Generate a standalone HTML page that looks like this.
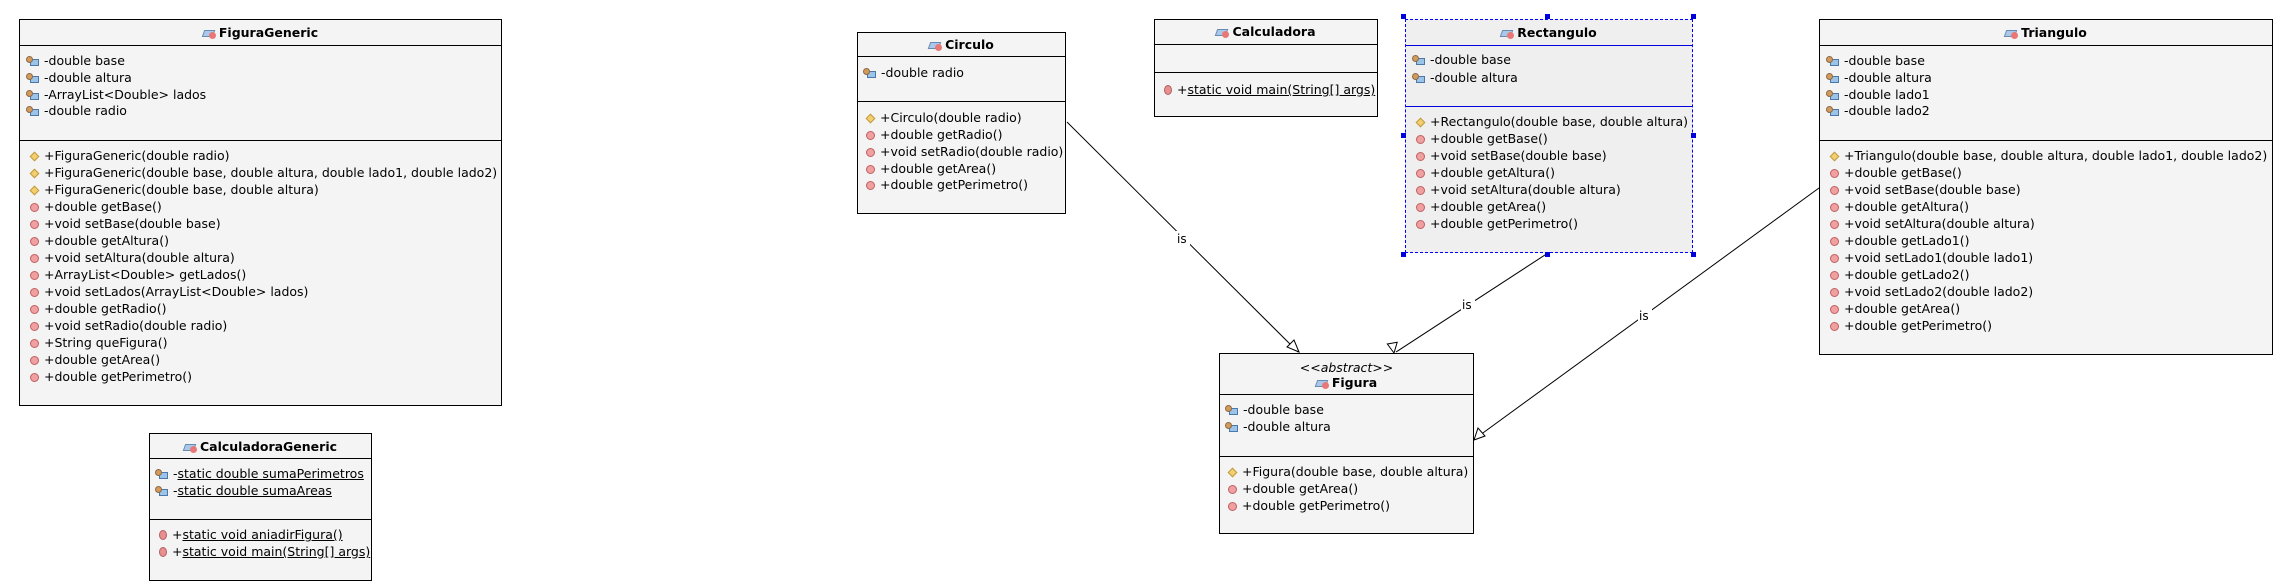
<!DOCTYPE html>
<html><head><meta charset="utf-8"><style>
body{margin:0;width:2278px;height:586px;background:#fff;position:relative;overflow:hidden;font-family:"DejaVu Sans","Liberation Sans",sans-serif;font-size:12.5px;color:#000}
.c{position:absolute;border:1px solid #000;background:#f4f4f4;box-sizing:border-box}
.t{position:absolute;left:0;right:0;text-align:center;font-weight:bold;font-size:12.5px;line-height:16px;height:16px;white-space:nowrap}
.d{position:absolute;left:0;right:0;border-top:1px solid #000;height:0}
.r{position:absolute;line-height:16px;height:16px;white-space:nowrap}
.a{padding-left:18px}
.m{padding-left:18px}
.r .ia{position:absolute;left:0;top:3px;width:13px;height:10px}
.ia:before{content:"";position:absolute;left:4px;top:3px;width:9px;height:7px;background:#9cc3e8;border:1px solid #4a78a8;box-sizing:border-box}
.ia:after{content:"";position:absolute;left:0;top:0;width:7px;height:7px;border-radius:50%;background:#d49a5a;border:1px solid #8a6a4a;box-sizing:border-box}
.im{position:absolute;left:4px;top:4px;width:9px;height:9px;border-radius:50%;background:#f0a0a0;border:1px solid #c06060;box-sizing:border-box}
.ic{position:absolute;left:5px;top:5px;width:7px;height:7px;transform:rotate(45deg);background:#f3cf70;border:1px solid #c09a40;box-sizing:border-box}
.is{position:absolute;left:5px;top:3px;width:8px;height:10px;border-radius:50%;background:#e89090;border:1px solid #b06060;box-sizing:border-box}
.ti{display:inline-block;width:13px;height:11px;position:relative;margin-right:3px;vertical-align:-1px}
.ti:before{content:"";position:absolute;left:0;top:3px;width:11px;height:7px;background:#a9c9ec;transform:skewX(-20deg);border:1px solid #6a8ab0;box-sizing:border-box}
.ti:after{content:"";position:absolute;left:6px;top:5px;width:7px;height:7px;border-radius:50%;background:#e87878}
u{text-decoration:underline}
.h{position:absolute;width:5px;height:5px;background:#0000dd}
</style></head><body>

<svg width="2278" height="586" style="position:absolute;left:0;top:0" xmlns="http://www.w3.org/2000/svg">
<g stroke="#000" stroke-width="1" fill="none">
<line x1="1067" y1="122" x2="1298" y2="352"/>
<polygon points="1299,352 1287,347 1294,340" fill="#fff"/>
<line x1="1548" y1="253" x2="1396" y2="352"/>
<polygon points="1394,353 1389,343 1399,343" fill="#fff" transform="rotate(-10 1394 353)"/>
<line x1="1819" y1="188" x2="1476" y2="438"/>
<polygon points="1474,440 1478,428 1485,436" fill="#fff"/>
</g>
<g font-family="DejaVu Sans, sans-serif" font-size="12" fill="#000">
<rect x="1176" y="231" width="14" height="14" fill="#fff"/><text x="1177" y="243">is</text>
<rect x="1461" y="297" width="14" height="14" fill="#fff"/><text x="1462" y="309">is</text>
<rect x="1638" y="308" width="14" height="14" fill="#fff"/><text x="1639" y="320">is</text>
</g>
</svg>

<!-- FiguraGeneric -->
<div class="c" style="left:19px;top:19px;width:483px;height:387px">
<div class="t" style="top:5px"><span class="ti"></span>FiguraGeneric</div>
<div class="d" style="top:25px"></div>
<div class="r a" style="left:6px;top:33px"><span class="ia"></span>-double base</div>
<div class="r a" style="left:6px;top:50px"><span class="ia"></span>-double altura</div>
<div class="r a" style="left:6px;top:67px"><span class="ia"></span>-ArrayList&lt;Double&gt; lados</div>
<div class="r a" style="left:6px;top:83px"><span class="ia"></span>-double radio</div>
<div class="d" style="top:120px"></div>
<div class="r m" style="left:6px;top:128px"><span class="ic"></span>+FiguraGeneric(double radio)</div>
<div class="r m" style="left:6px;top:145px"><span class="ic"></span>+FiguraGeneric(double base, double altura, double lado1, double lado2)</div>
<div class="r m" style="left:6px;top:162px"><span class="ic"></span>+FiguraGeneric(double base, double altura)</div>
<div class="r m" style="left:6px;top:179px"><span class="im"></span>+double getBase()</div>
<div class="r m" style="left:6px;top:196px"><span class="im"></span>+void setBase(double base)</div>
<div class="r m" style="left:6px;top:213px"><span class="im"></span>+double getAltura()</div>
<div class="r m" style="left:6px;top:230px"><span class="im"></span>+void setAltura(double altura)</div>
<div class="r m" style="left:6px;top:247px"><span class="im"></span>+ArrayList&lt;Double&gt; getLados()</div>
<div class="r m" style="left:6px;top:264px"><span class="im"></span>+void setLados(ArrayList&lt;Double&gt; lados)</div>
<div class="r m" style="left:6px;top:281px"><span class="im"></span>+double getRadio()</div>
<div class="r m" style="left:6px;top:298px"><span class="im"></span>+void setRadio(double radio)</div>
<div class="r m" style="left:6px;top:315px"><span class="im"></span>+String queFigura()</div>
<div class="r m" style="left:6px;top:332px"><span class="im"></span>+double getArea()</div>
<div class="r m" style="left:6px;top:349px"><span class="im"></span>+double getPerimetro()</div>
</div>

<!-- CalculadoraGeneric -->
<div class="c" style="left:149px;top:433px;width:223px;height:148px">
<div class="t" style="top:5px"><span class="ti"></span>CalculadoraGeneric</div>
<div class="d" style="top:24px"></div>
<div class="r a" style="left:5px;top:32px"><span class="ia"></span>-<u>static double sumaPerimetros</u></div>
<div class="r a" style="left:5px;top:49px"><span class="ia"></span>-<u>static double sumaAreas</u></div>
<div class="d" style="top:85px"></div>
<div class="r m" style="left:4px;top:93px"><span class="is"></span>+<u>static void aniadirFigura()</u></div>
<div class="r m" style="left:4px;top:110px"><span class="is"></span>+<u>static void main(String[] args)</u></div>
</div>

<!-- Circulo -->
<div class="c" style="left:857px;top:32px;width:209px;height:182px">
<div class="t" style="top:4px"><span class="ti"></span>Circulo</div>
<div class="d" style="top:23px"></div>
<div class="r a" style="left:5px;top:32px"><span class="ia"></span>-double radio</div>
<div class="d" style="top:68px"></div>
<div class="r m" style="left:4px;top:77px"><span class="ic"></span>+Circulo(double radio)</div>
<div class="r m" style="left:4px;top:94px"><span class="im"></span>+double getRadio()</div>
<div class="r m" style="left:4px;top:111px"><span class="im"></span>+void setRadio(double radio)</div>
<div class="r m" style="left:4px;top:128px"><span class="im"></span>+double getArea()</div>
<div class="r m" style="left:4px;top:144px"><span class="im"></span>+double getPerimetro()</div>
</div>

<!-- Calculadora -->
<div class="c" style="left:1154px;top:19px;width:224px;height:98px">
<div class="t" style="top:4px"><span class="ti"></span>Calculadora</div>
<div class="d" style="top:24px"></div>
<div class="d" style="top:52px"></div>
<div class="r m" style="left:4px;top:62px"><span class="is"></span>+<u>static void main(String[] args)</u></div>
</div>

<!-- Rectangulo -->
<div class="c" style="left:1405px;top:19px;width:288px;height:234px;background:#efefef;border:1px dashed #0000ff">
<div class="t" style="top:5px"><span class="ti"></span>Rectangulo</div>
<div class="d" style="top:25px;border-top:1px solid #0000dd"></div>
<div class="r a" style="left:6px;top:32px"><span class="ia"></span>-double base</div>
<div class="r a" style="left:6px;top:50px"><span class="ia"></span>-double altura</div>
<div class="d" style="top:86px;border-top:1px solid #0000dd"></div>
<div class="r m" style="left:6px;top:94px"><span class="ic"></span>+Rectangulo(double base, double altura)</div>
<div class="r m" style="left:6px;top:111px"><span class="im"></span>+double getBase()</div>
<div class="r m" style="left:6px;top:128px"><span class="im"></span>+void setBase(double base)</div>
<div class="r m" style="left:6px;top:145px"><span class="im"></span>+double getAltura()</div>
<div class="r m" style="left:6px;top:162px"><span class="im"></span>+void setAltura(double altura)</div>
<div class="r m" style="left:6px;top:179px"><span class="im"></span>+double getArea()</div>
<div class="r m" style="left:6px;top:196px"><span class="im"></span>+double getPerimetro()</div>
</div>
<div class="h" style="left:1401px;top:14px"></div>
<div class="h" style="left:1545px;top:14px"></div>
<div class="h" style="left:1691px;top:14px"></div>
<div class="h" style="left:1401px;top:133px"></div>
<div class="h" style="left:1691px;top:133px"></div>
<div class="h" style="left:1401px;top:252px"></div>
<div class="h" style="left:1545px;top:252px"></div>
<div class="h" style="left:1691px;top:252px"></div>

<!-- Figura -->
<div class="c" style="left:1219px;top:353px;width:255px;height:181px">
<div class="r" style="left:0;right:0;text-align:center;top:6px;font-style:italic">&lt;&lt;abstract&gt;&gt;</div>
<div class="t" style="top:21px"><span class="ti"></span>Figura</div>
<div class="d" style="top:40px"></div>
<div class="r a" style="left:5px;top:48px"><span class="ia"></span>-double base</div>
<div class="r a" style="left:5px;top:65px"><span class="ia"></span>-double altura</div>
<div class="d" style="top:102px"></div>
<div class="r m" style="left:4px;top:110px"><span class="ic"></span>+Figura(double base, double altura)</div>
<div class="r m" style="left:4px;top:127px"><span class="im"></span>+double getArea()</div>
<div class="r m" style="left:4px;top:144px"><span class="im"></span>+double getPerimetro()</div>
</div>

<!-- Triangulo -->
<div class="c" style="left:1819px;top:19px;width:454px;height:336px">
<div class="t" style="top:5px"><span class="ti"></span>Triangulo</div>
<div class="d" style="top:25px"></div>
<div class="r a" style="left:6px;top:33px"><span class="ia"></span>-double base</div>
<div class="r a" style="left:6px;top:50px"><span class="ia"></span>-double altura</div>
<div class="r a" style="left:6px;top:67px"><span class="ia"></span>-double lado1</div>
<div class="r a" style="left:6px;top:83px"><span class="ia"></span>-double lado2</div>
<div class="d" style="top:120px"></div>
<div class="r m" style="left:6px;top:128px"><span class="ic"></span>+Triangulo(double base, double altura, double lado1, double lado2)</div>
<div class="r m" style="left:6px;top:145px"><span class="im"></span>+double getBase()</div>
<div class="r m" style="left:6px;top:162px"><span class="im"></span>+void setBase(double base)</div>
<div class="r m" style="left:6px;top:179px"><span class="im"></span>+double getAltura()</div>
<div class="r m" style="left:6px;top:196px"><span class="im"></span>+void setAltura(double altura)</div>
<div class="r m" style="left:6px;top:213px"><span class="im"></span>+double getLado1()</div>
<div class="r m" style="left:6px;top:230px"><span class="im"></span>+void setLado1(double lado1)</div>
<div class="r m" style="left:6px;top:247px"><span class="im"></span>+double getLado2()</div>
<div class="r m" style="left:6px;top:264px"><span class="im"></span>+void setLado2(double lado2)</div>
<div class="r m" style="left:6px;top:281px"><span class="im"></span>+double getArea()</div>
<div class="r m" style="left:6px;top:298px"><span class="im"></span>+double getPerimetro()</div>
</div>

</body></html>
